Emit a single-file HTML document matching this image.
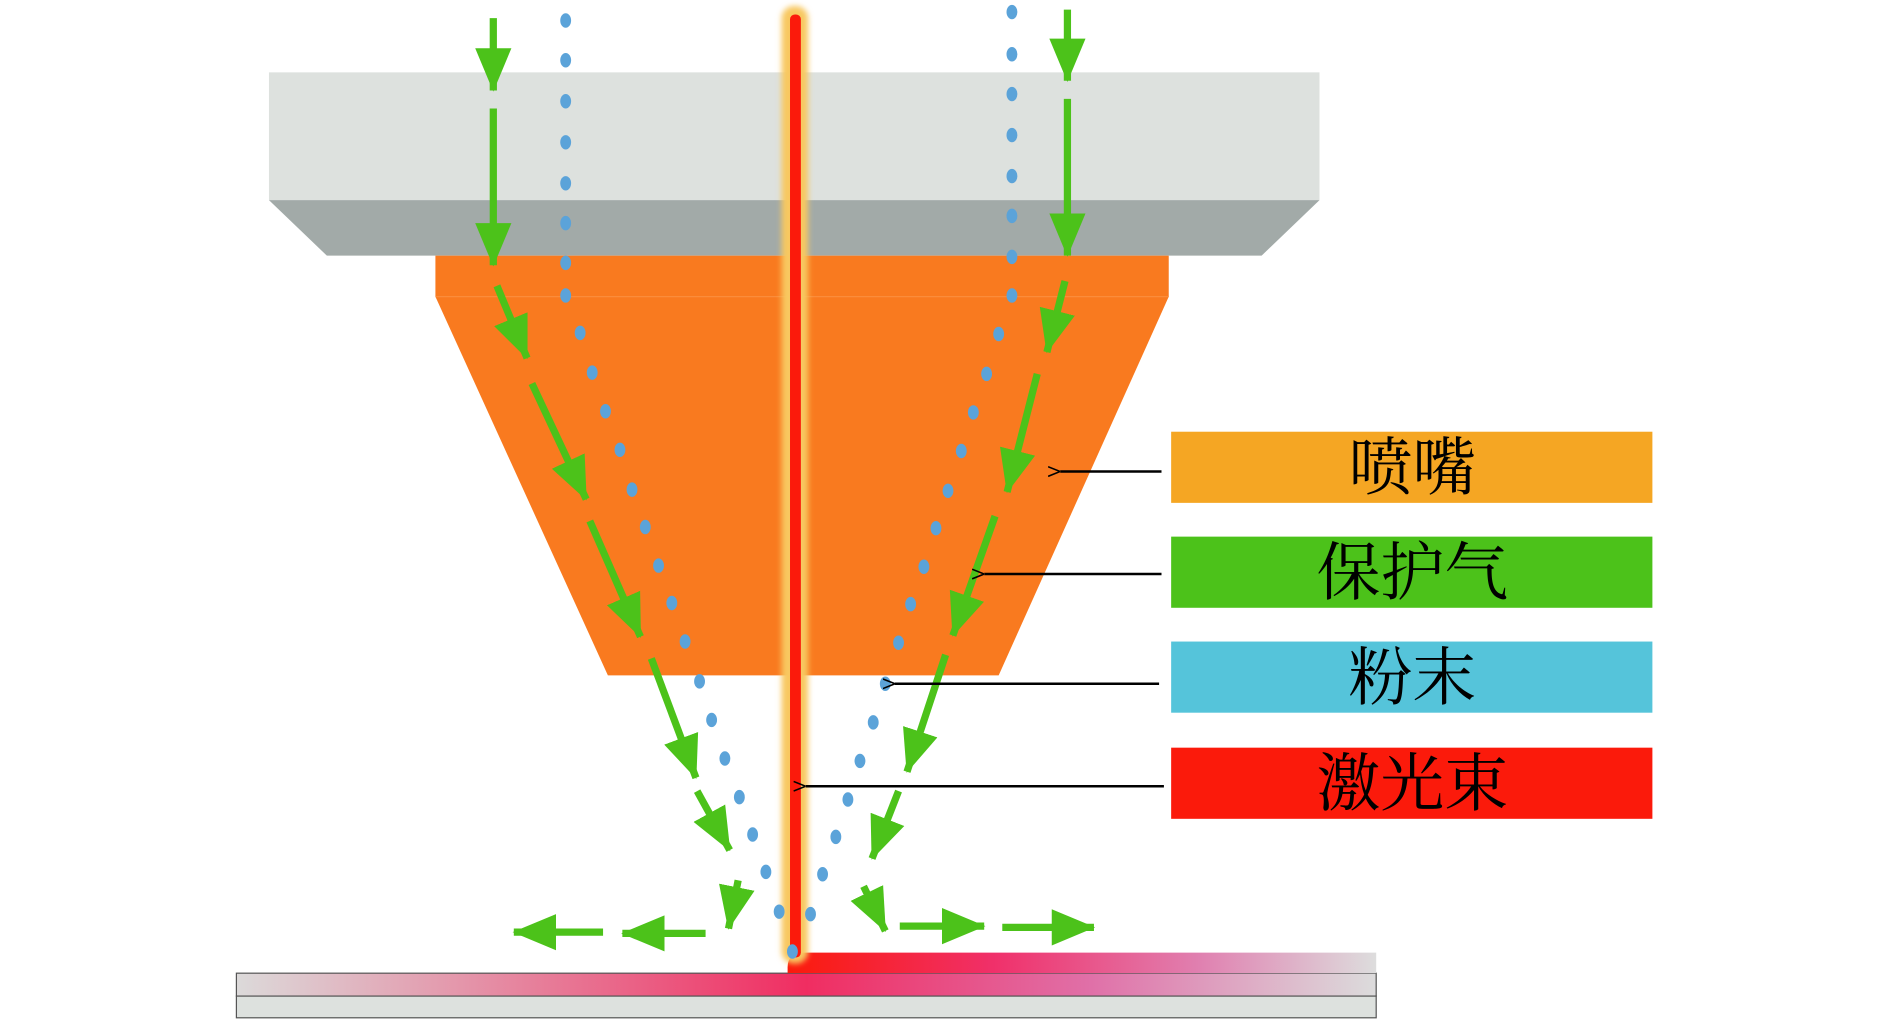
<!DOCTYPE html>
<html><head><meta charset="utf-8"><style>html,body{margin:0;padding:0;background:#fff}svg{display:block}</style></head><body>
<svg width="1890" height="1019" viewBox="0 0 1567 845" preserveAspectRatio="none" xmlns="http://www.w3.org/2000/svg">
<defs>
<linearGradient id="pl" x1="0" x2="1"><stop offset="0" stop-color="#dcdada"/><stop offset="0.5" stop-color="#f02d61"/><stop offset="0.75" stop-color="#e070a8"/><stop offset="1" stop-color="#dcdcdc"/></linearGradient>
<linearGradient id="bd" x1="0" x2="1"><stop offset="0" stop-color="#fb1a0b"/><stop offset="0.35" stop-color="#f0306a"/><stop offset="0.7" stop-color="#e080b0"/><stop offset="1" stop-color="#dddddd"/></linearGradient>
<filter id="bl" x="-1" y="-0.1" width="3" height="1.2"><feGaussianBlur stdDeviation="2.5"/></filter>
<marker id="ah" markerWidth="10" markerHeight="10" refX="0" refY="5" orient="auto" markerUnits="userSpaceOnUse"><path d="M10,1 L0,5 L10,9" fill="none" stroke="#000" stroke-width="1.3"/></marker>
<marker id="gh" markerWidth="36" markerHeight="32" refX="35" refY="16" orient="auto" markerUnits="userSpaceOnUse"><path d="M0,1 L36,16 L0,31 Z" fill="#4cc21a"/></marker>
</defs>
<rect x="223" y="60" width="871" height="106" fill="#dde1de"/>
<polygon points="223,166 1094,166 1046,212 271,212" fill="#a2aaa8"/>
<rect x="361" y="212" width="608" height="34" fill="#f97a1f"/>
<polygon points="361,246 969,246 828,560 504,560" fill="#f97a1f"/>
<line x1="361" y1="246" x2="969" y2="246" stroke="#fb8c3a" stroke-width="1"/>
<rect x="196" y="807" width="945" height="19" fill="url(#pl)" stroke="#555" stroke-width="1"/>
<rect x="196" y="826" width="945" height="18" fill="#dde1de" stroke="#555" stroke-width="1"/>
<path d="M653,807 L653,802 Q653,790 668,790 L1141,790 L1141,807 Z" fill="url(#bd)"/>
<rect x="648" y="5" width="22" height="794" rx="10" fill="#f8c860" filter="url(#bl)"/>
<rect x="655" y="12" width="9" height="782" rx="4" fill="#fb1a0b"/>
<g fill="#5ba3d9">
<ellipse cx="469" cy="17" rx="4.5" ry="6"/><ellipse cx="469" cy="50" rx="4.5" ry="6"/><ellipse cx="469" cy="84" rx="4.5" ry="6"/><ellipse cx="469" cy="118" rx="4.5" ry="6"/><ellipse cx="469" cy="152" rx="4.5" ry="6"/><ellipse cx="469" cy="185" rx="4.5" ry="6"/><ellipse cx="469" cy="218" rx="4.5" ry="6"/><ellipse cx="469" cy="245" rx="4.5" ry="6"/>
<ellipse cx="481" cy="276" rx="4.5" ry="6"/><ellipse cx="491" cy="309" rx="4.5" ry="6"/><ellipse cx="502" cy="341" rx="4.5" ry="6"/><ellipse cx="514" cy="373" rx="4.5" ry="6"/><ellipse cx="524" cy="406" rx="4.5" ry="6"/><ellipse cx="535" cy="437" rx="4.5" ry="6"/><ellipse cx="546" cy="469" rx="4.5" ry="6"/><ellipse cx="557" cy="500" rx="4.5" ry="6"/><ellipse cx="568" cy="532" rx="4.5" ry="6"/><ellipse cx="580" cy="565" rx="4.5" ry="6"/><ellipse cx="590" cy="597" rx="4.5" ry="6"/><ellipse cx="601" cy="629" rx="4.5" ry="6"/><ellipse cx="613" cy="661" rx="4.5" ry="6"/><ellipse cx="624" cy="692" rx="4.5" ry="6"/><ellipse cx="635" cy="723" rx="4.5" ry="6"/><ellipse cx="646" cy="756" rx="4.5" ry="6"/><ellipse cx="657" cy="789" rx="4.5" ry="6"/>
<ellipse cx="839" cy="10" rx="4.5" ry="6"/><ellipse cx="839" cy="45" rx="4.5" ry="6"/><ellipse cx="839" cy="78" rx="4.5" ry="6"/><ellipse cx="839" cy="112" rx="4.5" ry="6"/><ellipse cx="839" cy="146" rx="4.5" ry="6"/><ellipse cx="839" cy="179" rx="4.5" ry="6"/><ellipse cx="839" cy="213" rx="4.5" ry="6"/><ellipse cx="839" cy="245" rx="4.5" ry="6"/>
<ellipse cx="828" cy="277" rx="4.5" ry="6"/><ellipse cx="818" cy="310" rx="4.5" ry="6"/><ellipse cx="807" cy="342" rx="4.5" ry="6"/><ellipse cx="797" cy="374" rx="4.5" ry="6"/><ellipse cx="786" cy="407" rx="4.5" ry="6"/><ellipse cx="776" cy="438" rx="4.5" ry="6"/><ellipse cx="766" cy="470" rx="4.5" ry="6"/><ellipse cx="755" cy="501" rx="4.5" ry="6"/><ellipse cx="745" cy="533" rx="4.5" ry="6"/><ellipse cx="734" cy="567" rx="4.5" ry="6"/><ellipse cx="724" cy="599" rx="4.5" ry="6"/><ellipse cx="713" cy="631" rx="4.5" ry="6"/><ellipse cx="703" cy="663" rx="4.5" ry="6"/><ellipse cx="693" cy="694" rx="4.5" ry="6"/><ellipse cx="682" cy="725" rx="4.5" ry="6"/><ellipse cx="672" cy="758" rx="4.5" ry="6"/>
</g>
<g stroke="#4cc21a" stroke-width="6" stroke-linecap="butt" marker-end="url(#gh)">
<line x1="409" y1="15" x2="409" y2="75"/>
<line x1="409" y1="90" x2="409" y2="220"/>
<line x1="412" y1="237" x2="437" y2="297"/>
<line x1="441" y1="318" x2="486" y2="414"/>
<line x1="489" y1="432" x2="531" y2="528"/>
<line x1="540" y1="546" x2="577" y2="645"/>
<line x1="578" y1="656" x2="605" y2="705"/>
<line x1="612" y1="730" x2="604" y2="770"/>
<line x1="885" y1="8" x2="885" y2="67"/>
<line x1="885" y1="82" x2="885" y2="212"/>
<line x1="883" y1="233" x2="868" y2="292"/>
<line x1="860" y1="310" x2="835" y2="408"/>
<line x1="825" y1="428" x2="790" y2="527"/>
<line x1="784" y1="543" x2="752" y2="640"/>
<line x1="745" y1="656" x2="723" y2="712"/>
<line x1="716" y1="735" x2="734" y2="772"/>
<line x1="500" y1="773" x2="426" y2="773"/>
<line x1="585" y1="774" x2="516" y2="774"/>
<line x1="746" y1="768" x2="816" y2="768"/>
<line x1="831" y1="769" x2="907" y2="769"/>
</g>
<rect x="971" y="358" width="399" height="59" fill="#f5a623"/>
<rect x="971" y="445" width="399" height="59" fill="#4cc21a"/>
<rect x="971" y="532" width="399" height="59" fill="#55c4da"/>
<rect x="971" y="620" width="399" height="59" fill="#fb1a0b"/>
<g font-family="'Noto Serif CJK SC','Noto Sans CJK SC',serif" font-size="53" text-anchor="middle" fill="#000">
<text x="1171" y="406">喷嘴</text>
<text x="1171" y="493">保护气</text>
<text x="1171" y="580">粉末</text>
<text x="1171" y="668">激光束</text>
</g>
<g stroke="#000" stroke-width="2">
<line x1="963" y1="391" x2="879" y2="391" marker-end="url(#ah)"/>
<line x1="963" y1="476" x2="816" y2="476" marker-end="url(#ah)"/>
<line x1="961" y1="567" x2="742" y2="567" marker-end="url(#ah)"/>
<line x1="965" y1="652" x2="668" y2="652" marker-end="url(#ah)"/>
</g>
</svg>
</body></html>
